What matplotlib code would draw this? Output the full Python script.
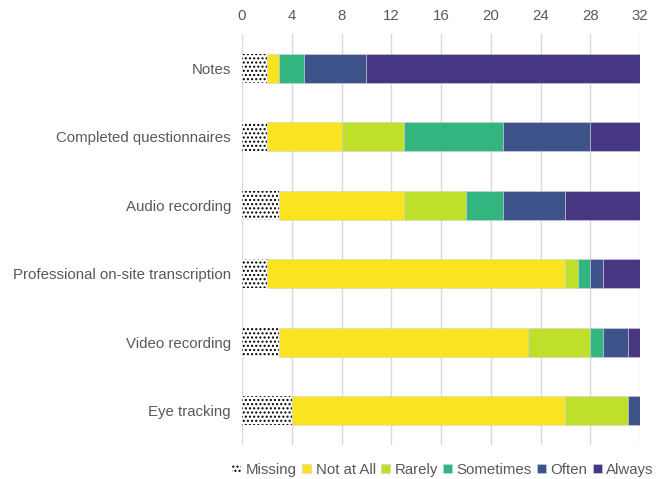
import matplotlib
matplotlib.use("Agg")
import matplotlib.pyplot as plt
import numpy as np

plt.rcParams['font.family'] = ['Liberation Sans', 'DejaVu Sans']

categories = ["Notes", "Completed questionnaires", "Audio recording",
              "Professional on-site transcription", "Video recording", "Eye tracking"]
series_names = ["Missing", "Not at All", "Rarely", "Sometimes", "Often", "Always"]
missing    = [2, 2, 3, 2, 3, 4]
not_at_all = [1, 6, 10, 24, 20, 22]
rarely     = [0, 5, 5, 1, 5, 5]
sometimes  = [2, 8, 3, 1, 1, 0]
often      = [5, 7, 5, 1, 2, 1]
always     = [22, 4, 6, 3, 1, 0]
xticks = [0, 4, 8, 12, 16, 20, 24, 28, 32]

series = [missing, not_at_all, rarely, sometimes, often, always]
colors = ["white", "#FAE420", "#BEE02A", "#33B57F", "#3E538A", "#473681"]

fig = plt.figure(figsize=(6.7, 4.79), dpi=100)
ax = fig.add_axes([242/670, 1 - 445/479, (640-242)/670, (445-34)/479])

y = np.arange(len(categories))
left = np.zeros(len(categories))
for name, vals, c in zip(series_names, series, colors):
    vals = np.array(vals, dtype=float)
    if name == "Missing":
        ax.barh(y, vals, left=left, height=0.42, color="white", edgecolor="black",
                linewidth=0, hatch="....", label=name, zorder=3)
    else:
        ax.barh(y, vals, left=left, height=0.42, color=c, edgecolor="#d0d0e0",
                linewidth=0.4, label=name, zorder=3)
    left += vals

ax.set_ylim(len(categories) - 0.5, -0.5)
ax.set_xlim(0, 32)
ax.set_xticks(xticks)
ax.xaxis.tick_top()
ax.tick_params(axis='x', length=0, pad=8, labelsize=10.8, labelcolor="#595959")
ax.tick_params(axis='y', length=0, pad=8, labelsize=10.8, labelcolor="#595959")
ax.set_yticks(y)
ax.set_yticklabels(categories)
for s in ax.spines.values():
    s.set_visible(False)
ax.grid(axis='x', color="#d9d9d9", linewidth=1, zorder=0)
ax.set_axisbelow(True)

leg = fig.legend(loc="center", bbox_to_anchor=(443/670, 1 - 470/479), ncol=6,
                 frameon=False, fontsize=10.8, handlelength=0.6, handleheight=0.6,
                 handletextpad=0.3, columnspacing=0.35, borderaxespad=0)
for t in leg.get_texts():
    t.set_color("#595959")

fig.savefig("out.png", dpi=100)
